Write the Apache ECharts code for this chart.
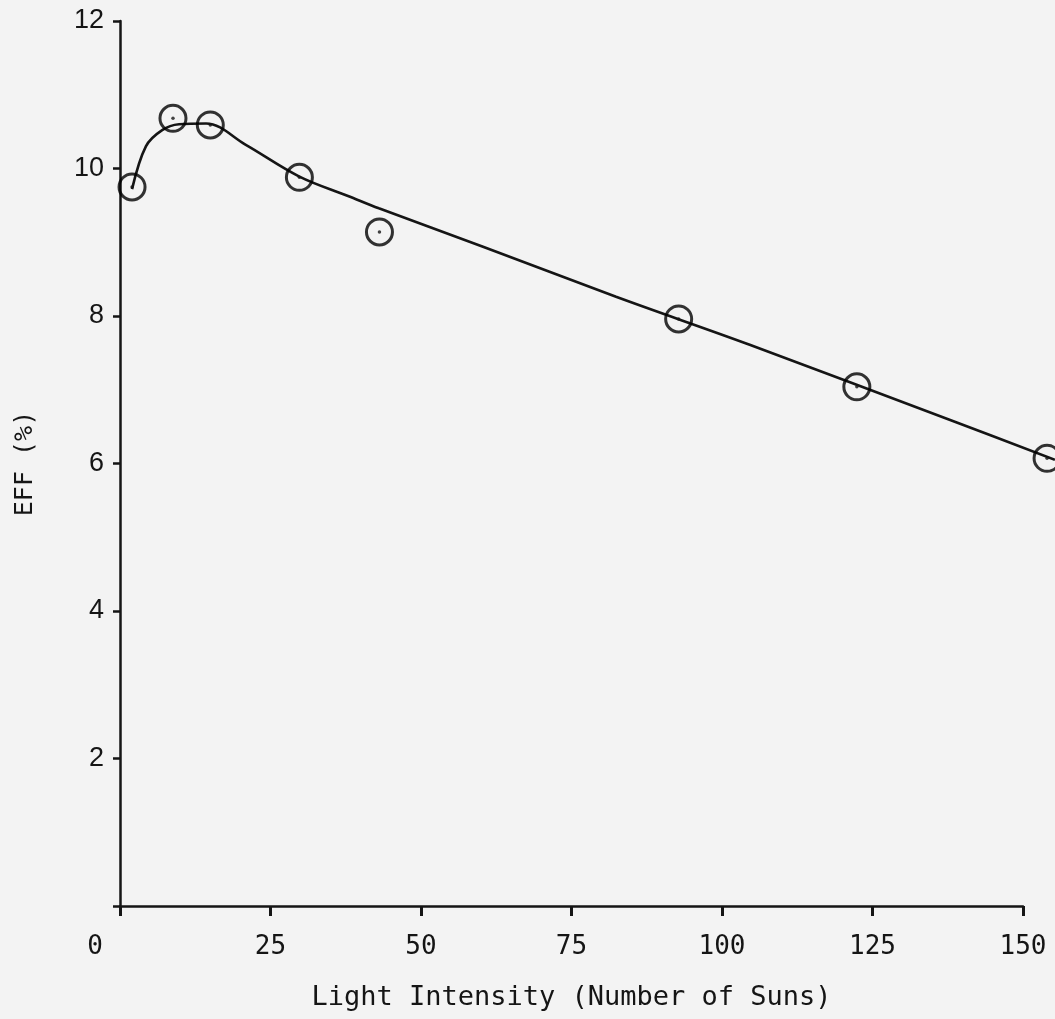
<!DOCTYPE html>
<html>
<head>
<meta charset="utf-8">
<script src="https://cdn.jsdelivr.net/npm/echarts@6/dist/echarts.min.js"></script>
<style>
html,body{margin:0;padding:0;background:#f3f3f3;}
#chart{width:1055px;height:1019px;}
</style>
</head>
<body>
<div id="chart"></div>
<script>
// Measured points: [light intensity (suns), efficiency (%)]
const measuredPoints = [
  [2.0, 9.75], [8.8, 10.68], [15.0, 10.59], [29.8, 9.88],
  [43.1, 9.14], [92.8, 7.96], [122.4, 7.04], [154.0, 6.07]
];
// Hand-drawn fitted curve
const curvePoints = [
  [2.0, 9.72], [4.3, 10.30], [7.0, 10.52], [9.8, 10.60], [14.3, 10.61],
  [20.9, 10.32], [29.8, 9.89], [38.1, 9.62], [43.0, 9.46], [60.3, 8.94],
  [82.4, 8.26], [104.6, 7.61], [137.9, 6.59], [155.3, 6.05]
];
const xTicks = [0, 25, 50, 75, 100, 125, 150];
const yTicks = [0, 2, 4, 6, 8, 10, 12];
const xTitle = 'Light Intensity (Number of Suns)';
const yTitle = 'EFF (%)';

const ink = '#151515';
const mono = '"DejaVu Sans Mono", monospace';
const W = 1055, L = 120, R = 32;
const xMax = xTicks[xTicks.length - 1];
// the data run past the drawn axis to the picture's right edge: an overlay grid with the same scale
const xMaxFull = xMax * (W - L) / (W - L - R);

const chart = echarts.init(document.getElementById('chart'), null, {renderer: 'canvas'});
chart.setOption({
  backgroundColor: '#f3f3f3',
  animation: false,
  grid: [
    {left: L, right: R, top: 21, bottom: 113, containLabel: false},
    {left: L, right: 0, top: 21, bottom: 113, containLabel: false}
  ],
  xAxis: [{
    gridIndex: 0, type: 'value', min: xTicks[0], max: xMax, interval: 25,
    name: xTitle, nameLocation: 'middle', nameGap: 78,
    nameTextStyle: {fontFamily: mono, fontSize: 27, color: ink},
    axisLine: {lineStyle: {color: ink, width: 2.5}},
    axisTick: {show: true, inside: false, length: 10, lineStyle: {color: ink, width: 3}},
    axisLabel: {
      margin: 28, fontFamily: mono, fontSize: 26, color: ink,
      formatter: v => v === 0 ? '{z|0}' : String(v),
      rich: {z: {fontFamily: mono, fontSize: 26, color: ink, padding: [0, 50, 0, 0]}}
    },
    splitLine: {show: false}
  }, {
    gridIndex: 1, type: 'value', min: 0, max: xMaxFull, show: false,
    splitLine: {show: false}
  }],
  yAxis: [{
    gridIndex: 0, type: 'value', min: yTicks[0], max: yTicks[yTicks.length - 1], interval: 2,
    name: yTitle, nameLocation: 'middle', nameGap: 82, nameRotate: 90,
    nameTextStyle: {fontFamily: mono, fontSize: 25, color: ink},
    axisLine: {lineStyle: {color: ink, width: 2.5}},
    axisTick: {show: true, inside: false, length: 7, lineStyle: {color: ink, width: 2.5}},
    axisLabel: {
      margin: 16, fontFamily: '"Liberation Sans", Arial, sans-serif', fontSize: 27, color: ink,
      formatter: v => v === 0 ? '' : String(v)
    },
    splitLine: {show: false}
  }, {
    gridIndex: 1, type: 'value', min: yTicks[0], max: yTicks[yTicks.length - 1], show: false,
    splitLine: {show: false}
  }],
  series: [
    {
      type: 'line', xAxisIndex: 1, yAxisIndex: 1, data: curvePoints, smooth: 0.35,
      showSymbol: false, clip: false,
      lineStyle: {color: ink, width: 2.6}, z: 2
    },
    {
      type: 'scatter', xAxisIndex: 1, yAxisIndex: 1, data: measuredPoints,
      symbol: 'circle', symbolSize: 26, clip: false,
      itemStyle: {color: 'rgba(0,0,0,0)', borderColor: '#000', borderWidth: 3}, z: 3
    },
    {
      type: 'scatter', xAxisIndex: 1, yAxisIndex: 1, data: measuredPoints,
      symbol: 'circle', symbolSize: 3.5, clip: false,
      itemStyle: {color: ink}, z: 4
    }
  ]
});
</script>
</body>
</html>
